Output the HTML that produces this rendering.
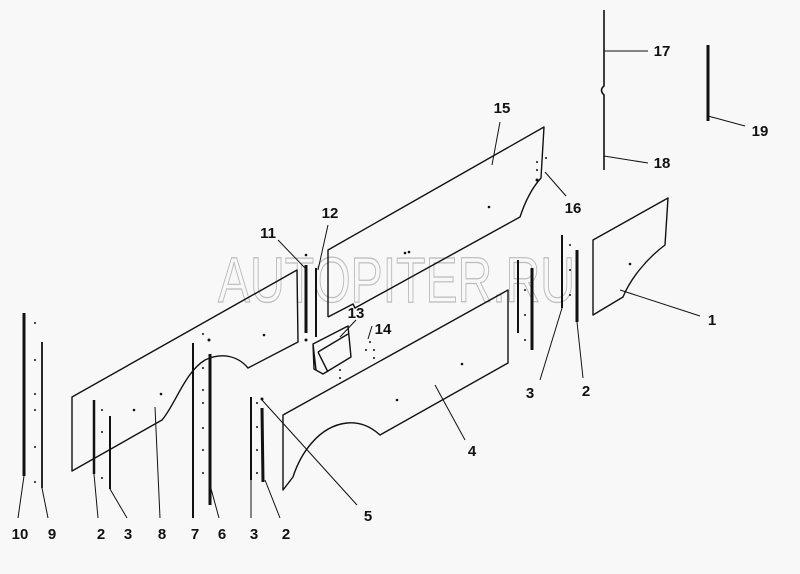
<!DOCTYPE html>
<html><head><meta charset="utf-8"><style>
html,body{margin:0;padding:0;background:#f8f8f8;}
svg{display:block}
text{font-family:"Liberation Sans",Arial,sans-serif;font-weight:bold;font-size:15px;fill:#111;text-anchor:middle}
</style></head><body>
<svg width="800" height="574" viewBox="0 0 800 574" xmlns="http://www.w3.org/2000/svg">
<rect width="800" height="574" fill="#f8f8f8"/>
<!-- watermark -->
<text x="218" y="302" textLength="357" lengthAdjust="spacingAndGlyphs" style="font-size:64px;font-weight:normal;fill:none;stroke:#bbb;stroke-width:1.2;text-anchor:start">AUTOPITER.RU</text>
<g fill="none" stroke="#111" stroke-width="1.4" stroke-linejoin="round">
<path d="M72,471 L72,397 L297,270 L298,342 L248,368 C238,356 222,352 205,360 C185,372 175,405 162,420 Z"/>
<path d="M328,317 L328,250 L544,127 L541,178 C530,190 524,205 520,217 L355,308 L353,304 L328,317"/>
<path d="M283,490 L283,415 L508,290 L508,363 L380,435 C370,426 360,422 347,423 C318,426 300,455 293,477 Z"/>
<path d="M593,315 L593,240 L668,198 L665,245 C645,260 630,280 623,297 Z"/>
<path d="M313,344 L348,326 L351,357 L323,374 L314,369 Z M313,344 L316,370 M318,352 L348,334 M318,352 L328,372"/>
<path d="M604,10 L604,86 Q599,90 604,95 L604,170" stroke-width="1.6"/>
</g>
<g stroke="#111" fill="none">
<line x1="24" y1="313" x2="24" y2="476" stroke-width="3"/>
<line x1="42" y1="342" x2="42" y2="488" stroke-width="1.8"/>
<line x1="94" y1="400" x2="94" y2="474" stroke-width="2.5"/>
<line x1="110" y1="416" x2="110" y2="489" stroke-width="2"/>
<line x1="193" y1="343" x2="193" y2="518" stroke-width="2"/>
<line x1="210" y1="354" x2="210" y2="505" stroke-width="3"/>
<line x1="251" y1="397" x2="251" y2="480" stroke-width="2"/>
<line x1="262" y1="408" x2="263" y2="482" stroke-width="3"/>
<line x1="306" y1="265" x2="306" y2="333" stroke-width="3"/>
<line x1="316" y1="268" x2="316" y2="337" stroke-width="2"/>
<line x1="518" y1="260" x2="518" y2="333" stroke-width="2"/>
<line x1="532" y1="268" x2="532" y2="350" stroke-width="3"/>
<line x1="562" y1="235" x2="562" y2="308" stroke-width="2"/>
<line x1="577" y1="250" x2="577" y2="322" stroke-width="3"/>
<line x1="708" y1="45" x2="708" y2="121" stroke-width="3"/>
</g>
<g fill="#111">
<circle cx="35" cy="323" r="1"/><circle cx="35" cy="360" r="1"/><circle cx="35" cy="394" r="1"/><circle cx="35" cy="410" r="1"/><circle cx="35" cy="447" r="1"/><circle cx="35" cy="482" r="1"/>
<circle cx="102" cy="410" r="1"/><circle cx="102" cy="432" r="1"/><circle cx="102" cy="478" r="1"/>
<circle cx="134" cy="410" r="1.3"/><circle cx="161" cy="394" r="1.3"/><circle cx="264" cy="335" r="1.3"/>
<circle cx="203" cy="334" r="1"/><circle cx="209" cy="340" r="1.5"/><circle cx="203" cy="368" r="1"/><circle cx="203" cy="390" r="1"/><circle cx="203" cy="403" r="1"/><circle cx="203" cy="428" r="1"/><circle cx="203" cy="450" r="1"/><circle cx="203" cy="473" r="1"/>
<circle cx="257" cy="403" r="1"/><circle cx="262" cy="399" r="1.5"/><circle cx="257" cy="427" r="1"/><circle cx="257" cy="450" r="1"/><circle cx="257" cy="473" r="1"/>
<circle cx="306" cy="255" r="1.3"/><circle cx="306" cy="340" r="1.5"/>
<circle cx="405" cy="253" r="1.3"/><circle cx="409" cy="252" r="1.3"/><circle cx="489" cy="207" r="1.3"/>
<circle cx="537" cy="162" r="1"/><circle cx="546" cy="158" r="1"/><circle cx="537" cy="170" r="1"/><circle cx="537" cy="180" r="1.5"/>
<circle cx="462" cy="364" r="1.3"/><circle cx="397" cy="400" r="1.3"/><circle cx="630" cy="264" r="1.3"/>
<circle cx="370" cy="342" r="1"/><circle cx="374" cy="350" r="1"/><circle cx="366" cy="350" r="1"/><circle cx="374" cy="358" r="1"/><circle cx="340" cy="370" r="1"/><circle cx="340" cy="378" r="1"/>
<circle cx="570" cy="245" r="1"/><circle cx="570" cy="270" r="1"/><circle cx="570" cy="295" r="1"/><circle cx="525" cy="290" r="1"/><circle cx="525" cy="315" r="1"/><circle cx="525" cy="340" r="1"/>
</g>
<g stroke="#111" stroke-width="1">
<line x1="620" y1="290" x2="700" y2="316"/>
<line x1="577" y1="322" x2="583" y2="378"/>
<line x1="562" y1="308" x2="540" y2="380"/>
<line x1="435" y1="385" x2="465" y2="440"/>
<line x1="262" y1="400" x2="357" y2="505"/>
<line x1="492" y1="165" x2="500" y2="122"/>
<line x1="545" y1="172" x2="566" y2="196"/>
<line x1="604" y1="51" x2="648" y2="51"/>
<line x1="604" y1="156" x2="648" y2="163"/>
<line x1="708" y1="116" x2="745" y2="126"/>
<line x1="278" y1="240" x2="305" y2="268"/>
<line x1="328" y1="225" x2="318" y2="270"/>
<line x1="356" y1="320" x2="340" y2="337"/>
<line x1="372" y1="326" x2="368" y2="339"/>
<line x1="24" y1="476" x2="18" y2="518"/>
<line x1="42" y1="488" x2="48" y2="518"/>
<line x1="94" y1="474" x2="98" y2="518"/>
<line x1="110" y1="489" x2="127" y2="518"/>
<line x1="155" y1="407" x2="160" y2="518"/>
<line x1="210" y1="485" x2="219" y2="518"/>
<line x1="251" y1="480" x2="251" y2="518"/>
<line x1="265" y1="480" x2="280" y2="518"/>
</g>
<text x="502" y="113">15</text><text x="573" y="213">16</text>
<text x="662" y="56">17</text><text x="662" y="168">18</text><text x="760" y="136">19</text>
<text x="712" y="325">1</text><text x="586" y="396">2</text><text x="530" y="398">3</text>
<text x="472" y="456">4</text><text x="368" y="521">5</text>
<text x="383" y="334">14</text><text x="356" y="318">13</text>
<text x="330" y="218">12</text><text x="268" y="238">11</text>
<text x="20" y="539">10</text><text x="52" y="539">9</text><text x="101" y="539">2</text>
<text x="128" y="539">3</text><text x="162" y="539">8</text><text x="195" y="539">7</text>
<text x="222" y="539">6</text><text x="254" y="539">3</text><text x="286" y="539">2</text>
</svg>
</body></html>
